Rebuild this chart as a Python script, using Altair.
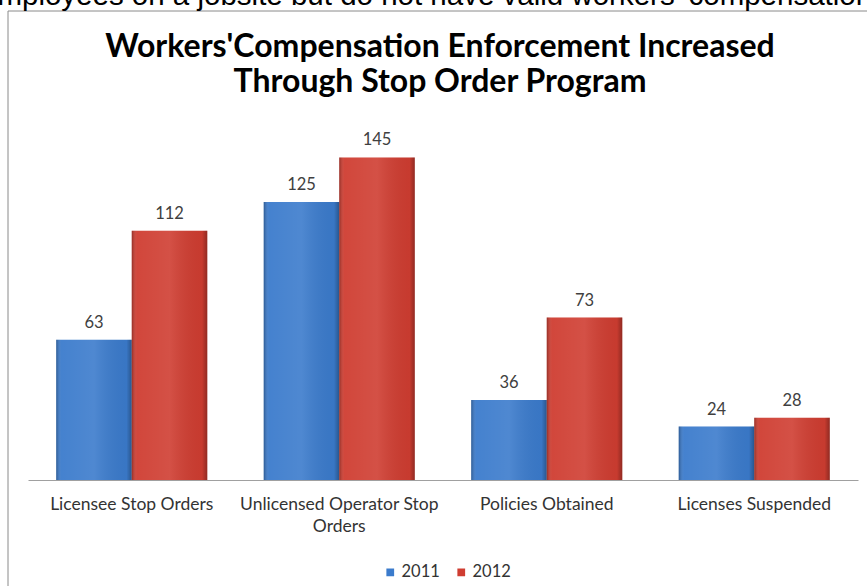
import altair as alt
import pandas as pd

categories = ["Licensee Stop Orders", "Unlicensed Operator Stop Orders",
              "Policies Obtained", "Licenses Suspended"]
years = ["2011", "2012"]
values_2011 = [63, 125, 36, 24]
values_2012 = [112, 145, 73, 28]
title_lines = ["Workers'Compensation Enforcement Increased", "Through Stop Order Program"]
top_text = "employees on a jobsite but do not have valid workers' compensation"
colors = ["#3b7bcc", "#cf3d31"]

rows = []
for c, a, b in zip(categories, values_2011, values_2012):
    rows.append({"category": c, "year": "2011", "value": a})
    rows.append({"category": c, "year": "2012", "value": b})
df = pd.DataFrame(rows)

W, H = 830, 356
PL, PT = 28, 124

base = alt.Chart(df).encode(
    x=alt.X("category:N", sort=categories, title=None,
            scale=alt.Scale(paddingInner=0.272, paddingOuter=0.136),
            axis=alt.Axis(labelAngle=0, ticks=False, domainColor="#a0a0a0",
                          labelFont="Lato", labelFontSize=17.5, labelColor="#333333",
                          labelPadding=15, labelLineHeight=22, labelLimit=300,
                          labelExpr="datum.value == 'Unlicensed Operator Stop Orders' ? ['Unlicensed Operator Stop', 'Orders'] : datum.label")),
    xOffset=alt.XOffset("year:N", scale=alt.Scale(domain=years, paddingInner=0)),
    y=alt.Y("value:Q", scale=alt.Scale(domain=[0, 160], nice=False), axis=None),
)

bars = base.mark_bar().encode(
    color=alt.Color("year:N", scale=alt.Scale(domain=years, range=colors),
                    legend=alt.Legend(title=None, orient="none", direction="horizontal",
                                      legendX=354, legendY=440, symbolType="square",
                                      symbolSize=60, symbolStrokeWidth=0,
                                      labelFont="Lato", labelFontSize=16.5, labelColor="#333333",
                                      columnPadding=13, labelOffset=3))
)

shade = base.mark_bar(color=alt.Gradient(
    gradient="linear", x1=0, x2=1, y1=0, y2=0,
    stops=[alt.GradientStop(color="rgba(0,0,0,0.28)", offset=0),
           alt.GradientStop(color="rgba(255,255,255,0.05)", offset=0.07),
           alt.GradientStop(color="rgba(255,255,255,0.10)", offset=0.5),
           alt.GradientStop(color="rgba(0,0,0,0.04)", offset=0.93),
           alt.GradientStop(color="rgba(0,0,0,0.30)", offset=1)]))

labels = base.mark_text(baseline="alphabetic", dy=-12, font="Lato", fontSize=16.5,
                        color="#404040").encode(text="value:Q")

one = pd.DataFrame({"k": [0]})
box = alt.Chart(one).mark_rect(fill=None, fillOpacity=0, stroke="#8a8a8a", strokeWidth=1).encode(
    x=alt.value(8 - PL), x2=alt.value(900), y=alt.value(11 - PT), y2=alt.value(600))
toptxt = alt.Chart(one).mark_text(align="left", baseline="alphabetic", font="Liberation Sans",
                                  fontSize=29.5, color="#000000").encode(
    x=alt.value(-19 - PL), y=alt.value(5 - PT), text=alt.value(top_text))
title = alt.Chart(one).mark_text(align="center", baseline="alphabetic", font="Lato",
                                 fontSize=32, fontWeight="bold", color="#000000",
                                 lineHeight=35).encode(
    x=alt.value(440 - PL), y=alt.value(57 - PT), text=alt.value(title_lines))

chart = alt.layer(box, toptxt, title, bars, shade, labels).properties(
    width=W, height=H,
    padding={"left": PL, "top": PT, "right": 867 - PL - W, "bottom": 586 - PT - H},
    autosize=alt.AutoSizeParams(type="none"),
    background="white",
).configure_view(stroke="transparent", strokeWidth=0)

chart.save("out.html", embed_options={"renderer": "svg", "actions": False})
